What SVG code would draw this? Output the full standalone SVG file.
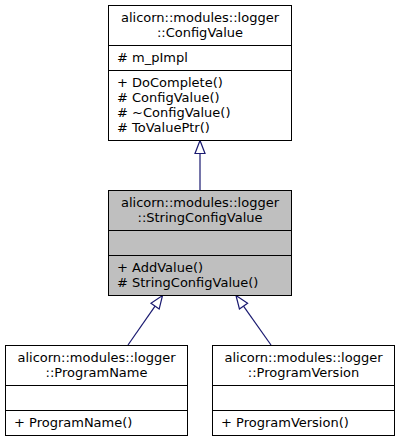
<svg xmlns="http://www.w3.org/2000/svg" width="400" height="441" viewBox="0 0 400 441">
<style>
.box{fill:#ffffff;stroke:#000000;stroke-width:1}
.gray{fill:#bfbfbf}
.div{stroke:#000000;stroke-width:1}
text{font-family:"DejaVu Sans",Verdana,sans-serif;font-size:13px;fill:#000000}
.c{text-anchor:middle}
.edge{stroke:#191970;stroke-width:1.2;fill:none}
.head{stroke:#191970;stroke-width:1.2;fill:#ffffff}
</style>
<rect width="400" height="441" fill="#ffffff"/>
<g id="connectors">
<line class="edge" x1="200" y1="190" x2="200" y2="153.5"/>
<polygon class="head" points="200,140.5 195,153.5 205,153.5"/>
<line class="edge" x1="128" y1="345" x2="155.07" y2="306.17"/>
<polygon class="head" points="162.5,295.5 159.17,309.03 150.97,303.31"/>
<line class="edge" x1="271" y1="345" x2="243.51" y2="306.12"/>
<polygon class="head" points="236,295.5 247.59,303.23 239.43,309.01"/>
</g>
<g id="ConfigValue">
<rect class="box" x="108.5" y="5.5" width="183" height="135"/>
<line class="div" x1="108.5" y1="45.5" x2="291.5" y2="45.5"/>
<line class="div" x1="108.5" y1="70.5" x2="291.5" y2="70.5"/>
<text class="c" x="200" y="22">alicorn::modules::logger</text>
<text class="c" x="200" y="37">::ConfigValue</text>
<text x="117" y="62"># m_pImpl</text>
<text x="117" y="87">+ DoComplete()</text>
<text x="117" y="102"># ConfigValue()</text>
<text x="117" y="117"># ~ConfigValue()</text>
<text x="117" y="132"># ToValuePtr()</text>
</g>
<g id="StringConfigValue">
<rect class="box gray" x="108.5" y="190.5" width="183" height="105"/>
<line class="div" x1="108.5" y1="230.5" x2="291.5" y2="230.5"/>
<line class="div" x1="108.5" y1="255.5" x2="291.5" y2="255.5"/>
<text class="c" x="200" y="207">alicorn::modules::logger</text>
<text class="c" x="200" y="222">::StringConfigValue</text>
<text x="117" y="272">+ AddValue()</text>
<text x="117" y="287"># StringConfigValue()</text>
</g>
<g id="ProgramName">
<rect class="box" x="5.5" y="345.5" width="182" height="90"/>
<line class="div" x1="5.5" y1="385.5" x2="187.5" y2="385.5"/>
<line class="div" x1="5.5" y1="410.5" x2="187.5" y2="410.5"/>
<text class="c" x="96.5" y="362">alicorn::modules::logger</text>
<text class="c" x="96.5" y="377">::ProgramName</text>
<text x="14" y="427">+ ProgramName()</text>
</g>
<g id="ProgramVersion">
<rect class="box" x="212.5" y="345.5" width="182" height="90"/>
<line class="div" x1="212.5" y1="385.5" x2="394.5" y2="385.5"/>
<line class="div" x1="212.5" y1="410.5" x2="394.5" y2="410.5"/>
<text class="c" x="303.5" y="362">alicorn::modules::logger</text>
<text class="c" x="303.5" y="377">::ProgramVersion</text>
<text x="221" y="427">+ ProgramVersion()</text>
</g>
</svg>
